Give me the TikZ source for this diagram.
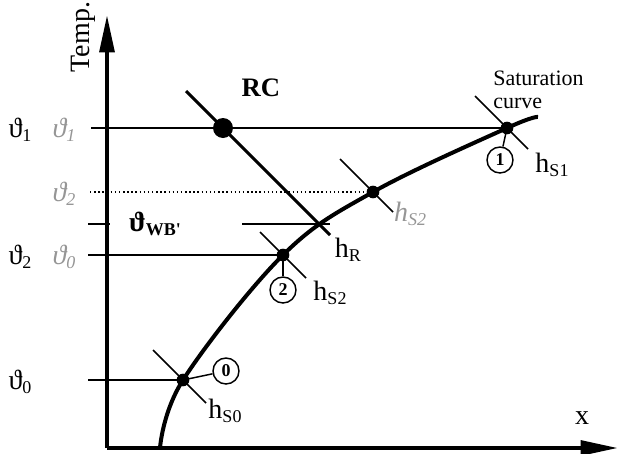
\documentclass[tikz,border=0pt]{standalone}
\usepackage{fontspec}
\setmainfont{Liberation Serif}
\usetikzlibrary{arrows.meta, intersections}
\definecolor{lightgrey}{RGB}{150,150,150}
\newcommand\sbs[1]{\raisebox{-3pt}{\fontsize{13.5}{14}\selectfont #1}}

\begin{document}
\begin{tikzpicture}[x=0.75pt, y=-0.75pt,
  axis/.style={line width=3pt, -{Triangle[length=28pt, width=11pt]}},
  guide/.style={line width=1.1pt},
  curve/.style={line width=3pt},
  rcline/.style={line width=2.3pt},
  dot/.style={circle, fill, inner sep=0pt, minimum size=9.5pt},
  bigdot/.style={circle, fill, inner sep=0pt, minimum size=15pt},
  num/.style={circle, draw, line width=1.1pt, inner sep=0pt, minimum size=19.5pt, font=\fontsize{13.5}{14}\selectfont\bfseries},
  lbl/.style={font=\fontsize{21}{25}\selectfont, inner sep=0pt},
  grey/.style={font=\fontsize{21}{25}\selectfont\itshape, text=lightgrey, inner sep=0pt}
]
\useasboundingbox (0,0) rectangle (619,454);
\coordinate (O) at (107,448);
\coordinate (ytip) at (107,15);
\coordinate (xtip) at (618,448);
\coordinate (S0) at (160,448);
\coordinate (P0) at (183,380);
\coordinate (P2) at (283,255);
\coordinate (PS2) at (373,192);
\coordinate (P1) at (507,128);
\coordinate (S1) at (538,117);
\coordinate (RCa) at (186,91);
\coordinate (RCb) at (330,235);
\coordinate (M) at (223,128);
\coordinate (l1) at (91,128);
\coordinate (l2) at (90,192);
\coordinate (lw1) at (88,0);
\coordinate (lw2) at (110,0);
\coordinate (lw3) at (242,0);
\coordinate (lw4) at (330,0);
\coordinate (l3) at (88,255);
\coordinate (l4) at (88,380);

\draw[axis] (O) -- (ytip);
\draw[axis] (O) -- (xtip);
\draw[curve, name path=sat] plot[smooth, tension=0.6] coordinates {(S0) (P0) (P2) (PS2) (P1) (S1)};
\path[name path=rc] (RCa) -- (RCb);
\path[name intersections={of=sat and rc, by=PR}];

\draw[guide] (l1) -- (P1);
\draw[guide, dotted] (l2) -- (PS2);
\draw[guide] (lw1 |- PR) -- (lw2 |- PR);
\draw[guide] (lw3 |- PR) -- (lw4 |- PR);
\draw[guide] (l3) -- (P2);
\draw[guide] (l4) -- (P0);
\draw[rcline] (RCa) -- (RCb);

\foreach \p/\a/\b in {P1/32/21, PS2/33/20, P2/23/23, P0/30/23}
  \draw[guide] (\p) ++(-\a,-\a) -- ++({\a+\b},{\a+\b});

\node[dot] (d0) at (P0) {};
\node[dot] (d2) at (P2) {};
\node[dot] (ds2) at (PS2) {};
\node[dot] (d1) at (P1) {};
\node[bigdot] (dm) at (M) {};

\node[num] (c1) at (500,160) {1};
\node[num] (c2) at (283,290) {2};
\node[num] (c0) at (226,371) {0};
\draw[guide] (P1) -- (c1);
\draw[guide] (P2) -- (c2);
\draw[guide] (P0) -- (c0);

\node[lbl, rotate=90] (temp) at (83,37) {Temp.};
\node[lbl] (xlbl) at (582,418) {x};
\node[font=\fontsize{20}{24}\selectfont\bfseries, inner sep=0pt] (rc) at (261,88) {RC};
\node[font=\fontsize{16.5}{17.3}\selectfont, align=left, anchor=north west, inner sep=0pt] (sat) at (493,71) {Saturation\\curve};

\node[lbl] (t1) at (20,130) {ϑ\sbs{1}};
\node[grey] (g1) at (64,130) {ϑ\sbs{1}};
\node[grey] (g2) at (64,194) {ϑ\sbs{2}};
\node[lbl] (t2) at (20,257) {ϑ\sbs{2}};
\node[grey] (g0) at (64,257) {ϑ\sbs{0}};
\node[lbl] (t0) at (20,382) {ϑ\sbs{0}};
\node[lbl, font=\fontsize{21}{25}\selectfont\bfseries] (twb) at (155,224) {ϑ\sbs{WB\textquotesingle}};

\node[lbl] (hs1) at (552,165) {h\sbs{S1}};
\node[grey] (hs2g) at (410,214) {h\sbs{S2}};
\node[lbl] (hr) at (348,250) {h\sbs{R}};
\node[lbl] (hs2) at (330,293) {h\sbs{S2}};
\node[lbl] (hs0) at (225,411) {h\sbs{S0}};
\end{tikzpicture}
\end{document}
